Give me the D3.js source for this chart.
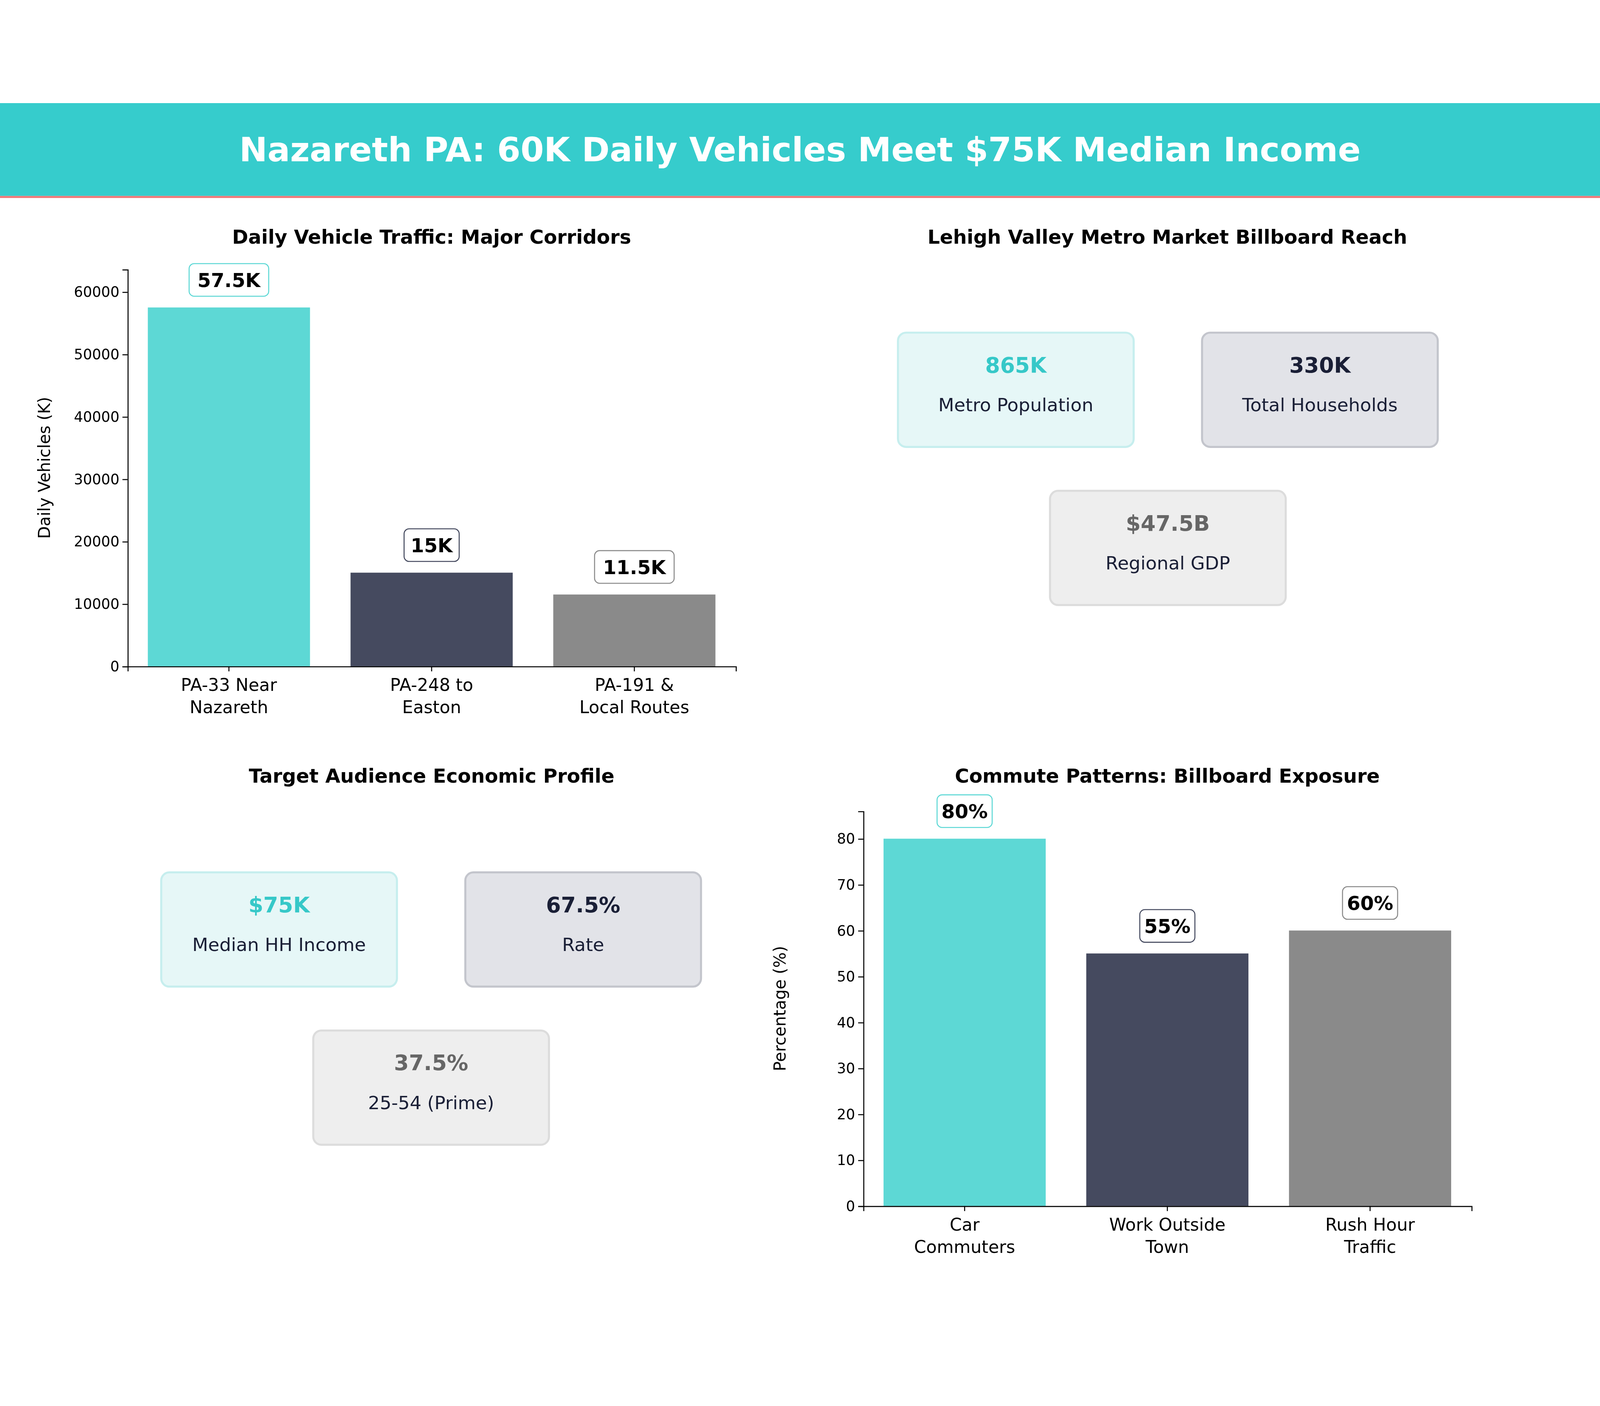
<!DOCTYPE html>
<html><head><meta charset="utf-8">
<script src="https://cdn.jsdelivr.net/npm/d3@7"></script>
<style>html,body{margin:0;padding:0;background:#fff;overflow:hidden}svg{position:fixed;left:0;top:0;width:100vw;height:100vh}text{font-family:"DejaVu Sans",sans-serif}</style>
</head><body>
<script>
// ---- data ----
var TITLE = "Nazareth PA: 60K Daily Vehicles Meet $75K Median Income";
var trafficRoutes = ["PA-33 Near\nNazareth","PA-248 to\nEaston","PA-191 &\nLocal Routes"];
var trafficValues = [57500,15000,11500];
var trafficLabels = ["57.5K","15K","11.5K"];
var trafficTicks = [0,10000,20000,30000,40000,50000,60000];
var commuteCats = ["Car\nCommuters","Work Outside\nTown","Rush Hour\nTraffic"];
var commuteValues = [80,55,60];
var commuteLabels = ["80%","55%","60%"];
var commuteTicks = [0,10,20,30,40,50,60,70,80];
var metroValues = ["865K","330K","$47.5B"];
var metroNames = ["Metro Population","Total Households","Regional GDP"];
var econValues = ["$75K","67.5%","37.5%"];
var econNames = ["Median HH Income","Rate","25-54 (Prime)"];

var BAR_COLORS = ["#5dd8d5","#454a5f","#8a8a8a"];
var CARD_FILL = ["#e6f7f7","#e2e3e8","#eeeeee"];
var CARD_STROKE = ["#c6eeee","#c3c5cc","#dcdcdc"];
var CARD_TEXT = ["#36c8c8","#1a1f36","#666666"];

var svg = d3.select("body").append("svg")
  .attr("viewBox","0 0 1568 1176")
  .attr("preserveAspectRatio","xMidYMid meet");

// ---- header ----
svg.append("rect").attr("x",0).attr("y",0).attr("width",1568).attr("height",91).attr("fill","#36cccc");
svg.append("rect").attr("x",0).attr("y",91).attr("width",1568).attr("height",2).attr("fill","#f07878");
svg.append("text").attr("x",784).attr("y",57).attr("text-anchor","middle")
  .attr("fill","#fff").attr("font-size",33).attr("font-weight","bold").text(TITLE);

function title(x,y,t){
  svg.append("text").attr("x",x).attr("y",y).attr("text-anchor","middle")
    .attr("font-size",19).attr("font-weight","bold").attr("fill","#000").text(t);
}

function barChart(cfg){
  var g = svg.append("g");
  var x = d3.scaleBand().domain(cfg.cats).range([cfg.x0,cfg.x1]).paddingInner(0.2).paddingOuter(0.1);
  var y = d3.scaleLinear().domain([0,cfg.ymax]).range([cfg.yb,cfg.yt]);
  g.selectAll("rect.bar").data(cfg.values).enter().append("rect")
    .attr("x",function(d,i){return x(cfg.cats[i]);})
    .attr("y",function(d){return y(d);})
    .attr("width",x.bandwidth())
    .attr("height",function(d){return cfg.yb-y(d);})
    .attr("fill",function(d,i){return BAR_COLORS[i];});
  var ay = g.append("g").attr("transform","translate("+cfg.x0+",0)")
    .call(d3.axisLeft(y).tickValues(cfg.ticks).tickFormat(d3.format("d")).tickSizeOuter(0).tickSize(5));
  ay.selectAll("text").attr("font-size",14).attr("fill","#000").style("font-family","DejaVu Sans");
  var ax = g.append("g").attr("transform","translate(0,"+cfg.yb+")")
    .call(d3.axisBottom(x).tickSizeOuter(0).tickSize(5));
  ax.selectAll("text").remove();
  ax.selectAll(".tick").each(function(d){
    var t = d3.select(this).append("text").attr("fill","#000").attr("font-size",17).attr("text-anchor","middle");
    d.split("\n").forEach(function(s,k){ t.append("tspan").attr("x",0).attr("y",24+k*22).text(s); });
  });
  g.selectAll(".domain").attr("stroke","#000");
  g.append("text").attr("transform","translate("+(cfg.x0-76)+","+((cfg.yb+cfg.yt)/2)+") rotate(-90)")
    .attr("text-anchor","middle").attr("font-size",16).text(cfg.ylabel);
  cfg.values.forEach(function(v,i){
    var cx = x(cfg.cats[i])+x.bandwidth()/2, cy = y(v)-26;
    var w = cfg.labels[i].length*12+18;
    g.append("rect").attr("x",cx-w/2).attr("y",cy-17).attr("width",w).attr("height",32).attr("rx",5)
      .attr("fill","#fff").attr("stroke",i==0?"#5dd8d5":BAR_COLORS[i]).attr("stroke-width",1);
    g.append("text").attr("x",cx).attr("y",cy+6).attr("text-anchor","middle")
      .attr("font-size",19).attr("font-weight","bold").text(cfg.labels[i]);
  });
}

function cards(pos,values,names){
  pos.forEach(function(p,i){
    svg.append("rect").attr("x",p[0]).attr("y",p[1]).attr("width",231).attr("height",112).attr("rx",8)
      .attr("fill",CARD_FILL[i]).attr("stroke",CARD_STROKE[i]).attr("stroke-width",2);
    svg.append("text").attr("x",p[0]+115.5).attr("y",p[1]+39).attr("text-anchor","middle")
      .attr("font-size",21).attr("font-weight","bold").attr("fill",CARD_TEXT[i]).text(values[i]);
    svg.append("text").attr("x",p[0]+115.5).attr("y",p[1]+77).attr("text-anchor","middle")
      .attr("font-size",18).attr("fill","#1a1f36").text(names[i]);
  });
}

// ---- panel 1 ----
title(423,138,"Daily Vehicle Traffic: Major Corridors");
barChart({cats:trafficRoutes,values:trafficValues,labels:trafficLabels,ticks:trafficTicks,
  ymax:63600,x0:125,x1:721,yb:552,yt:163,ylabel:"Daily Vehicles (K)"});

// ---- panel 2 ----
title(1144,138,"Lehigh Valley Metro Market Billboard Reach");
cards([[880,225],[1178,225],[1029,380]],metroValues,metroNames);

// ---- panel 3 ----
title(423,666,"Target Audience Economic Profile");
cards([[158,754],[456,754],[307,909]],econValues,econNames);

// ---- panel 4 ----
title(1144,666,"Commute Patterns: Billboard Exposure");
barChart({cats:commuteCats,values:commuteValues,labels:commuteLabels,ticks:commuteTicks,
  ymax:86,x0:846,x1:1442,yb:1081,yt:694,ylabel:"Percentage (%)"});
</script>
</body></html>
